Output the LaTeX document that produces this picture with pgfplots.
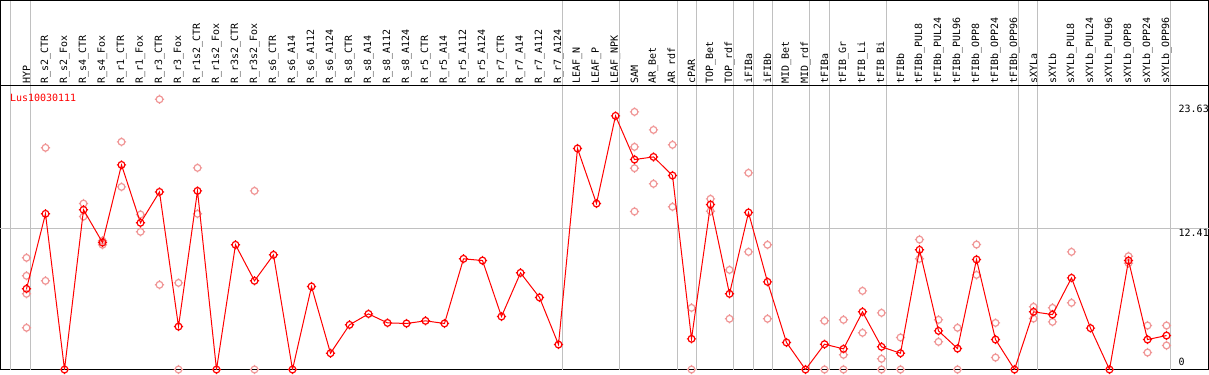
\documentclass[border=0pt]{standalone}
\usepackage{fontspec}
\setmonofont{DejaVu Sans Mono}
\usepackage{pgfplots}
\pgfplotsset{compat=1.18}
\definecolor{rep}{RGB}{240,150,150}
\definecolor{grd}{RGB}{192,192,192}
\pgfdeclareplotmark{ctick}{%
  \pgfpathcircle{\pgfpointorigin}{3.4pt}%
  \pgfpathmoveto{\pgfqpoint{0pt}{3.4pt}}\pgfpathlineto{\pgfqpoint{0pt}{4.6pt}}%
  \pgfpathmoveto{\pgfqpoint{0pt}{-3.4pt}}\pgfpathlineto{\pgfqpoint{0pt}{-4.6pt}}%
  \pgfpathmoveto{\pgfqpoint{3.4pt}{0pt}}\pgfpathlineto{\pgfqpoint{4.6pt}{0pt}}%
  \pgfpathmoveto{\pgfqpoint{-3.4pt}{0pt}}\pgfpathlineto{\pgfqpoint{-4.6pt}{0pt}}%
  \pgfusepathqstroke}
\begin{document}
\begin{tikzpicture}
\begin{axis}[
  scale only axis, width=1208pt, height=284pt,
  xmin=-1.3684, xmax=62.2105, ymin=0, ymax=24.912,
  clip mode=individual,
  axis line style={line width=1pt, black},
  xtick={0,...,60},
  xticklabels={HYP,R\_s2\_CTR,R\_s2\_Fox,R\_s4\_CTR,R\_s4\_Fox,R\_r1\_CTR,R\_r1\_Fox,R\_r3\_CTR,R\_r3\_Fox,R\_r1s2\_CTR,R\_r1s2\_Fox,R\_r3s2\_CTR,R\_r3s2\_Fox,R\_s6\_CTR,R\_s6\_A14,R\_s6\_A112,R\_s6\_A124,R\_s8\_CTR,R\_s8\_A14,R\_s8\_A112,R\_s8\_A124,R\_r5\_CTR,R\_r5\_A14,R\_r5\_A112,R\_r5\_A124,R\_r7\_CTR,R\_r7\_A14,R\_r7\_A112,R\_r7\_A124,LEAF\_N,LEAF\_P,LEAF\_NPK,SAM,AR\_Bet,AR\_rdf,cPAR,TOP\_Bet,TOP\_rdf,iFIBa,iFIBb,MID\_Bet,MID\_rdf,tFIBa,tFIB\_Gr,tFIB\_Li,tFIB\_Bi,tFIBb,tFIBb\_PUL8,tFIBb\_PUL24,tFIBb\_PUL96,tFIBb\_OPP8,tFIBb\_OPP24,tFIBb\_OPP96,sXYLa,sXYLb,sXYLb\_PUL8,sXYLb\_PUL24,sXYLb\_PUL96,sXYLb\_OPP8,sXYLb\_OPP24,sXYLb\_OPP96},
  xticklabel pos=upper,
  x tick label style={rotate=90, anchor=west, font=\ttfamily\fontsize{10}{10}\selectfont, inner sep=1.5pt},
  major tick length=0pt,
  ytick=\empty,
]
\pgfplotsinvokeforeach{-0.842,0.23,28.23,31.23,34.26,35.26,37.23,38.26,39.26,41.23,42.26,45.26,52.23,53.23,60.23}{
  \draw[grd, line width=1pt] (axis cs:#1,0) -- (axis cs:#1,32.37);
}
\draw[grd, line width=1pt] (axis cs:-1.3684,12.41) -- (axis cs:62.2105,12.41);

\addplot[only marks, mark=ctick, rep, mark options={line width=1.2pt}] coordinates {
(0,9.80) (0,8.22) (0,6.64) (0,3.66)
(1,19.45) (1,7.78)
(3,14.56) (3,13.42)
(4,11.29) (4,10.94)
(5,19.97) (5,16.02)
(6,13.60) (6,12.08)
(7,23.70) (7,7.43)
(8,7.60) (8,0)
(9,17.69) (9,13.66)
(12,15.67) (12,0)
(32,22.60) (32,19.53) (32,17.66) (32,13.86)
(33,21.02) (33,16.29)
(34,19.71) (34,14.27)
(35,5.41) (35,0)
(36,14.97) (36,13.89)
(37,8.74) (37,4.45)
(38,17.25) (38,10.32)
(39,10.94) (39,4.45)
(42,4.27) (42,0)
(43,4.36) (43,1.29) (43,0)
(44,6.90) (44,3.22)
(45,4.97) (45,0.94) (45,0)
(46,2.81) (46,0)
(47,11.40) (47,9.71)
(48,4.36) (48,2.43)
(49,3.66) (49,0)
(50,10.96) (50,8.30)
(51,4.09) (51,1.05)
(53,5.50) (53,4.47)
(54,5.41) (54,4.18)
(55,10.32) (55,5.85)
(58,9.94) (58,9.33)
(59,3.86) (59,1.49)
(60,3.86) (60,2.11)
};

\addplot[red, line width=1pt, mark=ctick, mark options={line width=1.2pt}] coordinates {
(0,7.08) (1,13.66) (2,0) (3,14.01) (4,11.14) (5,17.95) (6,12.87) (7,15.58) (8,3.77) (9,15.67)
(10,0) (11,10.94) (12,7.78) (13,10.06) (14,0) (15,7.28) (16,1.43) (17,3.92) (18,4.88) (19,4.09)
(20,4.04) (21,4.27) (22,4.04) (23,9.71) (24,9.56) (25,4.65) (26,8.48) (27,6.32) (28,2.19) (29,19.39)
(30,14.56) (31,22.25) (32,18.42) (33,18.65) (34,17.02) (35,2.69) (36,14.47) (37,6.64) (38,13.77) (39,7.69)
(40,2.37) (41,0) (42,2.22) (43,1.81) (44,5.06) (45,1.99) (46,1.43) (47,10.50) (48,3.39) (49,1.84)
(50,9.65) (51,2.63) (52,0) (53,5.06) (54,4.82) (55,8.04) (56,3.63) (57,0) (58,9.56) (59,2.63)
(60,2.98)
};

\draw[black, line width=1pt] (rel axis cs:0,1) rectangle (rel axis cs:1,1.2993);
\node[anchor=west, inner sep=0pt, text=red, font=\ttfamily\fontsize{10}{10}\selectfont] at (axis cs:-0.878,23.86) {Lus10030111};
\node[anchor=west, inner sep=0pt, font=\ttfamily\fontsize{10}{10}\selectfont] at (axis cs:60.63,22.89) {23.63};
\node[anchor=west, inner sep=0pt, font=\ttfamily\fontsize{10}{10}\selectfont] at (axis cs:60.63,11.99) {12.41};
\node[anchor=west, inner sep=0pt, font=\ttfamily\fontsize{10}{10}\selectfont] at (axis cs:60.63,0.64) {0};
\end{axis}
\end{tikzpicture}
\end{document}
